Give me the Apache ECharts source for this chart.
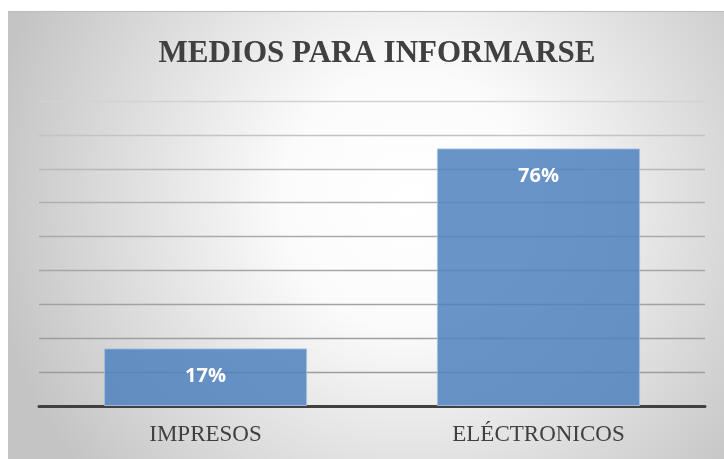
<!DOCTYPE html>
<html>
<head>
<meta charset="utf-8">
<script src="https://cdn.jsdelivr.net/npm/echarts@6/dist/echarts.min.js"></script>
<style>
  html, body { margin: 0; padding: 0; background: #fff; }
  #chart { width: 724px; height: 459px; }
</style>
</head>
<body>
<div id="chart"></div>
<script>
// datos (porcentaje)
const CATEGORIAS = ["IMPRESOS", "ELÉCTRONICOS"];
const VALORES = [17, 76];
const TITULO = "MEDIOS PARA INFORMARSE";

const Y_MAX = 90;
const Y_STEP = 10;

// gridlines get lighter towards the top, like the original
const GRID_COLORS = ["#9a9a9a", "#9c9c9c", "#9e9e9e", "#a2a2a2", "#a6a6a6",
  "#aaaaaa", "#b0b0b0", "#b8b8b8", "#c4c4c4", "#d2d2d2"];

const chart = echarts.init(document.getElementById("chart"), null, { renderer: "canvas" });

chart.setOption({
  animation: false,
  graphic: [
    {
      type: "rect",
      z: -10,
      shape: { x: 8, y: 11, width: 716, height: 448 },
      style: {
        fill: {
          type: "radial", x: 0.56, y: 0.42, r: 0.95,
          colorStops: [
            { offset: 0, color: "#ffffff" },
            { offset: 0.3, color: "#fbfbfb" },
            { offset: 1, color: "#c4c4c4" },
          ],
        },
      },
    },
    {
      type: "line",
      z: -9,
      shape: { x1: 8, y1: 11.5, x2: 724, y2: 11.5 },
      style: { stroke: "#bcbcbc", lineWidth: 1 },
    },
  ],
  title: {
    text: TITULO,
    left: 372,
    top: 33,
    textAlign: "center",
    textStyle: {
      fontFamily: "Liberation Serif",
      fontWeight: "bold",
      fontSize: 31,
      color: "#404040",
    },
  },
  grid: { left: 39, right: 19, top: 101, bottom: 53 },
  xAxis: {
    type: "category",
    data: CATEGORIAS,
    axisTick: { show: false },
    axisLine: { lineStyle: { color: "#404040", width: 3 } },
    axisLabel: {
      margin: 17,
      fontFamily: "Liberation Serif",
      fontSize: 23,
      color: "#404040",
    },
  },
  yAxis: {
    type: "value",
    min: 0,
    max: Y_MAX,
    interval: Y_STEP,
    axisLabel: { show: false },
    axisLine: { show: false },
    axisTick: { show: false },
    splitLine: { lineStyle: { color: GRID_COLORS, width: 1.3 } },
  },
  series: [{
    type: "bar",
    data: VALORES,
    barCategoryGap: "39%",
    itemStyle: {
      color: "rgba(79,129,189,0.85)",
      borderColor: "rgba(165,192,226,0.9)",
      borderWidth: 1,
    },
    label: {
      show: true,
      position: "insideTop",
      distance: 17.5,
      formatter: ({ value }) => value + "%",
      fontFamily: "Open Sans",
      fontWeight: "bold",
      fontSize: 20,
      color: "#ffffff",
    },
  }],
});
</script>
</body>
</html>
